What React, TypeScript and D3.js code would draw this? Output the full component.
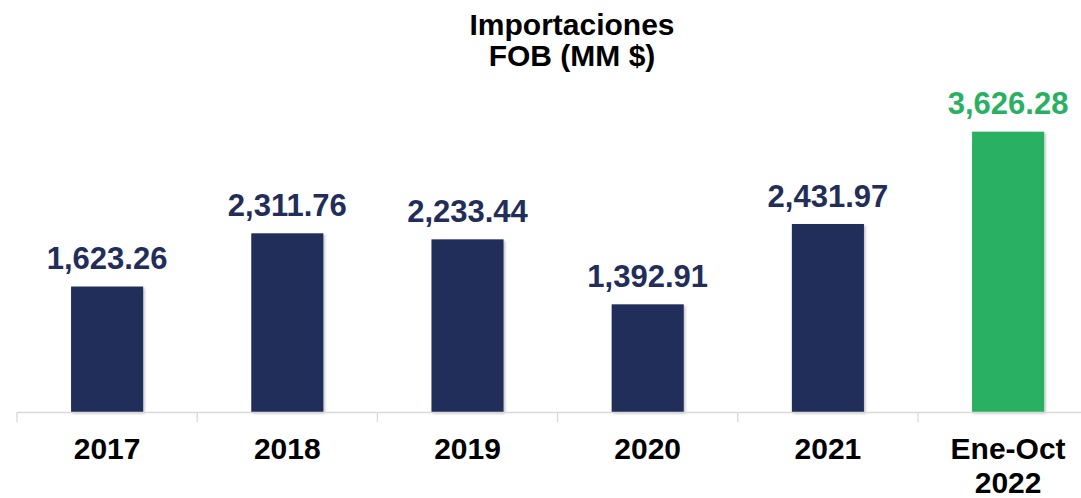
import React, { useEffect, useRef } from "react";
import * as d3 from "d3";

const categories = ["2017", "2018", "2019", "2020", "2021", "Ene-Oct\n2022"];
const values = [1623.26, 2311.76, 2233.44, 1392.91, 2431.97, 3626.28];
const titleLines = ["Importaciones", "FOB (MM $)"];

const App = () => {
  const ref = useRef<SVGSVGElement>(null);

  useEffect(() => {
    const width = 1081;
    const height = 498;
    const navy = "#222d5a";
    const green = "#29b062";

    const svg = d3.select(ref.current);
    svg.selectAll("*").remove();
    svg.attr("width", width).attr("height", height);

    const defs = svg.append("defs");
    const f = defs
      .append("filter")
      .attr("id", "shadow")
      .attr("x", "-10%")
      .attr("y", "-10%")
      .attr("width", "130%")
      .attr("height", "130%");
    f.append("feDropShadow")
      .attr("dx", 1.5)
      .attr("dy", 1.5)
      .attr("stdDeviation", 1)
      .attr("flood-color", "#000")
      .attr("flood-opacity", 0.25);

    const x = d3
      .scaleBand()
      .domain(categories)
      .range([17, 17 + 180.2 * categories.length])
      .paddingInner(0.6)
      .paddingOuter(0.3);

    const y = d3.scaleLinear().domain([0, 4000]).range([412, 102.8]);

    const font = "'Liberation Sans', Arial, sans-serif";

    // title
    svg
      .append("text")
      .attr("text-anchor", "middle")
      .style("font-family", font)
      .style("font-weight", "bold")
      .style("font-size", "30px")
      .selectAll("tspan")
      .data(titleLines)
      .join("tspan")
      .attr("x", 572)
      .attr("y", (d, i) => 35 + i * 31)
      .text((d) => d);

    // bars
    const last = categories.length - 1;
    svg
      .append("g")
      .selectAll("rect")
      .data(values)
      .join("rect")
      .attr("x", (d, i) => x(categories[i])!)
      .attr("y", (d) => y(d))
      .attr("width", x.bandwidth())
      .attr("height", (d) => y(0) - y(d))
      .attr("fill", (d, i) => (i === last ? green : navy))
      .attr("filter", "url(#shadow)");

    // value labels
    svg
      .append("g")
      .selectAll("text")
      .data(values)
      .join("text")
      .attr("x", (d, i) => x(categories[i])! + x.bandwidth() / 2)
      .attr("y", (d) => y(d) - 17.5)
      .attr("text-anchor", "middle")
      .style("font-family", font)
      .style("font-weight", "bold")
      .style("font-size", "31px")
      .attr("fill", (d, i) => (i === last ? green : navy))
      .text((d) => d3.format(",.2f")(d));

    // axis line + ticks at band edges
    const step = x.step();
    const x0 = 17;
    const axis = svg.append("g").attr("stroke", "#d9d9d9").attr("stroke-width", 1.3);
    axis
      .append("line")
      .attr("x1", x0)
      .attr("x2", x0 + step * categories.length)
      .attr("y1", 412.5)
      .attr("y2", 412.5);
    axis
      .selectAll("line.tick")
      .data(d3.range(categories.length + 1))
      .join("line")
      .attr("class", "tick")
      .attr("x1", (d) => x0 + d * step)
      .attr("x2", (d) => x0 + d * step)
      .attr("y1", 412)
      .attr("y2", 422);

    // category labels
    svg
      .append("g")
      .selectAll("text")
      .data(categories)
      .join("text")
      .attr("text-anchor", "middle")
      .style("font-family", font)
      .style("font-weight", "bold")
      .style("font-size", "30px")
      .attr("fill", "#000")
      .each(function (d) {
        const cx = x(d)! + x.bandwidth() / 2;
        d3.select(this)
          .selectAll("tspan")
          .data(d.split("\n"))
          .join("tspan")
          .attr("x", cx)
          .attr("y", (t, i) => 459 + i * 34)
          .text((t) => t);
      });
  }, []);

  return <svg ref={ref} style={{ position: "absolute", left: 0, top: 0 }}></svg>;
};

export default App;
